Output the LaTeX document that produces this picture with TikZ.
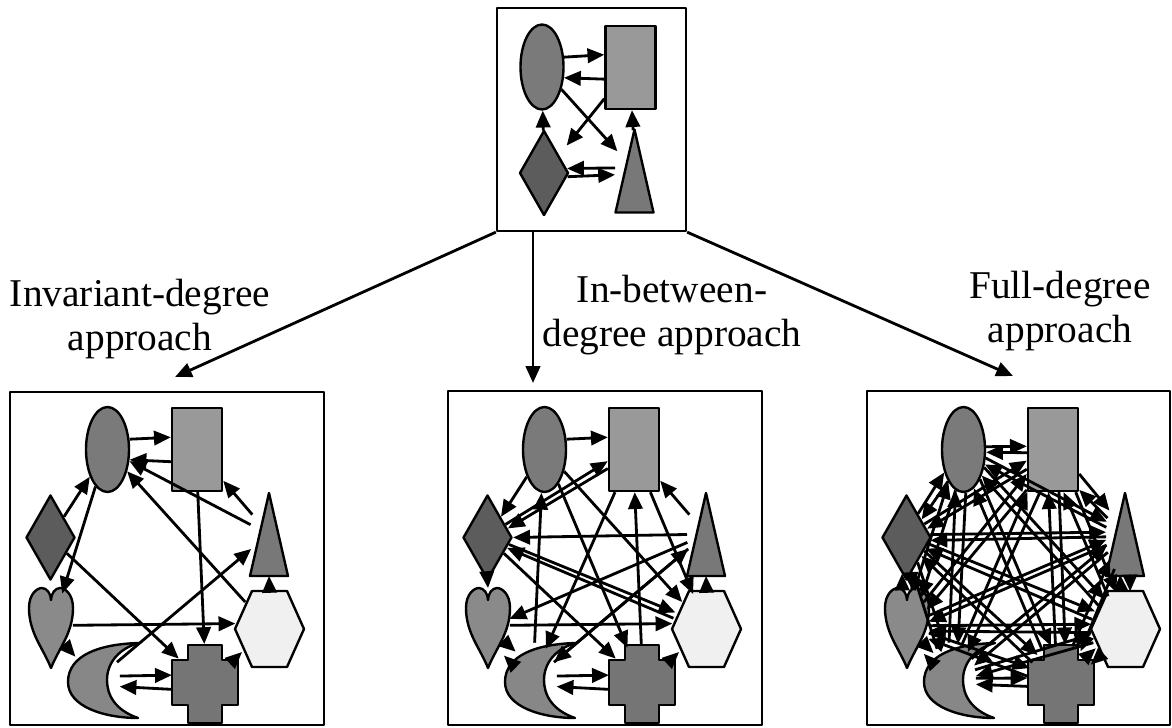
\documentclass[tikz,border=0pt]{standalone}
\usepackage{fontspec}
\setmainfont{Liberation Serif}
\usetikzlibrary{arrows.meta,shapes.geometric,positioning}

\definecolor{ellgray}{gray}{0.48}
\definecolor{rectgray}{gray}{0.60}
\definecolor{diagray}{gray}{0.36}
\definecolor{trigray}{gray}{0.47}
\definecolor{heartgray}{gray}{0.54}
\definecolor{hexgray}{gray}{0.94}
\definecolor{moongray}{gray}{0.53}
\definecolor{crossgray}{gray}{0.46}

\def\pu{0.025cm}

% arrow between two shapes, turned by #2 degrees off the centre line
\newcommand\link[4][]{%
  \pgfmathanglebetweenpoints{\pgfpointanchor{#3}{center}}{\pgfpointanchor{#4}{center}}%
  \let\lnkdir\pgfmathresult
  \pgfmathtruncatemacro\lnkout{mod(\lnkdir+(#2)+720,360)}%
  \pgfmathtruncatemacro\lnkin{mod(\lnkdir+180-(#2)+720,360)}%
  \draw[conn,#1] (#3.\lnkout) -- (#4.\lnkin);}

% the eight shapes of one lower box
\newcommand\panel[2]{%
  \begin{scope}[shift={(#2,0)}]
    \node[ellnode]  (#1ell)  at (107.5,449.5) {};
    \node[rectnode] (#1rect) at (197,449.5) {};
    \node[dianode]  (#1dia)  at (50.5,537.5) {};
    \node[spot, minimum width=38*\pu, minimum height=83*\pu] (#1tri) at (269,534.5) {};
    \node[spot, minimum width=44*\pu, minimum height=80*\pu] (#1heart) at (51,628) {};
    \node[spot, minimum width=69*\pu, minimum height=76*\pu] (#1hex) at (269.5,629) {};
    \node[spot, minimum width=50*\pu, minimum height=75*\pu] (#1moon) at (95,680) {};
    \node[spot, minimum width=68*\pu, minimum height=80*\pu] (#1cross) at (205,684) {};
    \pic at (269,534.5) {tri};
    \pic at (51,628) {heart};
    \pic at (269.5,629) {hexa};
    \pic at (95,680) {moon};
    \pic at (205,684) {cross};
  \end{scope}}

\begin{document}
\begin{tikzpicture}[x=0.025cm, y=-0.025cm, line join=round, >={Triangle[length=4.2mm,width=3.6mm]}]
  \tikzset{
    outline/.style={draw=black, line width=1.7pt},
    ellnode/.style={outline, ellipse, fill=ellgray, minimum width=43*\pu, minimum height=85*\pu, inner sep=0pt},
    rectnode/.style={outline, rectangle, fill=rectgray, minimum width=50*\pu, minimum height=83*\pu, inner sep=0pt},
    dianode/.style={outline, diamond, fill=diagray, minimum width=49*\pu, minimum height=85*\pu, inner sep=0pt},
    spot/.style={ellipse, inner sep=0pt, outer sep=0pt},
    conn/.style={->, line width=2pt},
    boxline/.style={draw=black, line width=1.6pt},
    lbl/.style={align=center, inner sep=0pt, font=\fontsize{28}{31}\selectfont},
    tri/.pic={\filldraw[outline, fill=trigray] (0,-41.5) -- (19,41.5) -- (-19,41.5) -- cycle;},
    hexa/.pic={\filldraw[outline, fill=hexgray] (-34.5,0) -- (-17.5,-38) -- (17.5,-38) -- (34.5,0) -- (17.5,38) -- (-17.5,38) -- cycle;},
    heart/.pic={\filldraw[outline, fill=heartgray] (0,40) .. controls (-8,20) and (-22,5) .. (-22,-20)
      .. controls (-22,-34) and (-14,-40) .. (-9,-40) .. controls (-4,-40) and (0,-34) .. (0,-28)
      .. controls (0,-34) and (4,-40) .. (9,-40) .. controls (14,-40) and (22,-34) .. (22,-20)
      .. controls (22,5) and (8,20) .. (0,40) -- cycle;},
    moon/.pic={\filldraw[outline, fill=moongray] (44,-37) .. controls (5,-36) and (-27,-25) .. (-27,2)
      .. controls (-27,27) and (10,38) .. (43,38) .. controls (20,30) and (12,15) .. (12,0)
      .. controls (12,-18) and (25,-32) .. (44,-37) -- cycle;},
    cross/.pic={\filldraw[outline, fill=crossgray] (-17,-39) -- (17,-39) -- (17,-24) -- (33,-24) -- (33,21)
      -- (17,21) -- (17,39) -- (-17,39) -- (-17,21) -- (-33,21) -- (-33,-24) -- (-17,-24) -- cycle;}
  }
  \useasboundingbox (0,0) rectangle (1172,728);

  % upper box
  \node[boxline, minimum width=189*\pu, minimum height=223*\pu, inner sep=0pt] (top) at (591.5,119.5) {};
  \node[ellnode]  (Tell)  at (542,67) {};
  \node[rectnode] (Trect) at (630.5,67.5) {};
  \node[dianode]  (Tdia)  at (544,173) {};
  \node[spot, minimum width=39*\pu, minimum height=82*\pu] (Ttri) at (634.5,171) {};
  \pic at (634.5,171) {tri};
  \link{25}{Tell}{Trect}
  \link{25}{Trect}{Tell}
  \link{0}{Tdia}{Tell}
  \link{0}{Ttri}{Trect}
  \link[shorten >=3mm]{0}{Trect}{Tdia}
  \link{0}{Tell}{Ttri}
  \link{-10}{Ttri}{Tdia}
  \link{-10}{Tdia}{Ttri}

  \path (175,377) coordinate (Ltip)
        (533,383) coordinate (Mtip)
        (1013,376) coordinate (Rtip);
  \draw[conn] (top.south west) -- (Ltip);
  \draw[conn] (top.south -| Mtip) -- (Mtip);
  \draw[conn] (top.south east) -- (Rtip);

  \node[lbl] (invlbl)  at (140,319) {Invariant-degree\\approach};
  \node[lbl] (midlbl)  at (672,315) {In-between-\\degree approach};
  \node[lbl] (fulllbl) at (1060,311) {Full-degree\\approach};

  % lower boxes
  \draw[boxline] (10,392) rectangle (324,725);
  \draw[boxline] (448,391) rectangle (762,725);
  \draw[boxline] (867,391) rectangle (1170,725);
  \panel{L}{0}
  \panel{M}{437}
  \panel{R}{856}

  % invariant degree
  \link{25}{Lell}{Lrect}
  \link{25}{Lrect}{Lell}
  \link{0}{Ldia}{Lell}
  \link{0}{Lell}{Lheart}
  \link{0}{Ldia}{Lcross}
  \link{0}{Lrect}{Lcross}
  \link{0}{Ltri}{Lrect}
  \link{0}{Ltri}{Lell}
  \link{0}{Lhex}{Lell}
  \link{0}{Lmoon}{Ltri}
  \link{8}{Lheart}{Lhex}
  \link{0}{Lheart}{Lmoon}
  \link{12}{Lmoon}{Lcross}
  \link{12}{Lcross}{Lmoon}
  \link{0}{Lcross}{Lhex}
  \link{0}{Lhex}{Ltri}

  % in-between degree
  \foreach \a/\b/\o in {ell/rect/25, ell/dia/0, dia/rect/6, rect/dia/6, tri/dia/0, hex/dia/5, dia/hex/5,
      dia/heart/0, heart/hex/8, tri/rect/0, hex/tri/0, cross/hex/0, moon/cross/12, cross/moon/12,
      moon/heart/10, heart/moon/10, moon/ell/0, cross/rect/0, rect/moon/0, ell/hex/0, ell/cross/0,
      dia/cross/0, moon/tri/0, tri/heart/0, tri/moon/0, rect/hex/0}
    \link{\o}{M\a}{M\b};

  % full degree
  \foreach \a [count=\i] in {ell,rect,dia,tri,heart,hex,moon,cross}
    \foreach \b [count=\j] in {ell,rect,dia,tri,heart,hex,moon,cross}
      {\ifnum\i<\j \link{7}{R\a}{R\b}\link{7}{R\b}{R\a}\fi}
\end{tikzpicture}
\end{document}
